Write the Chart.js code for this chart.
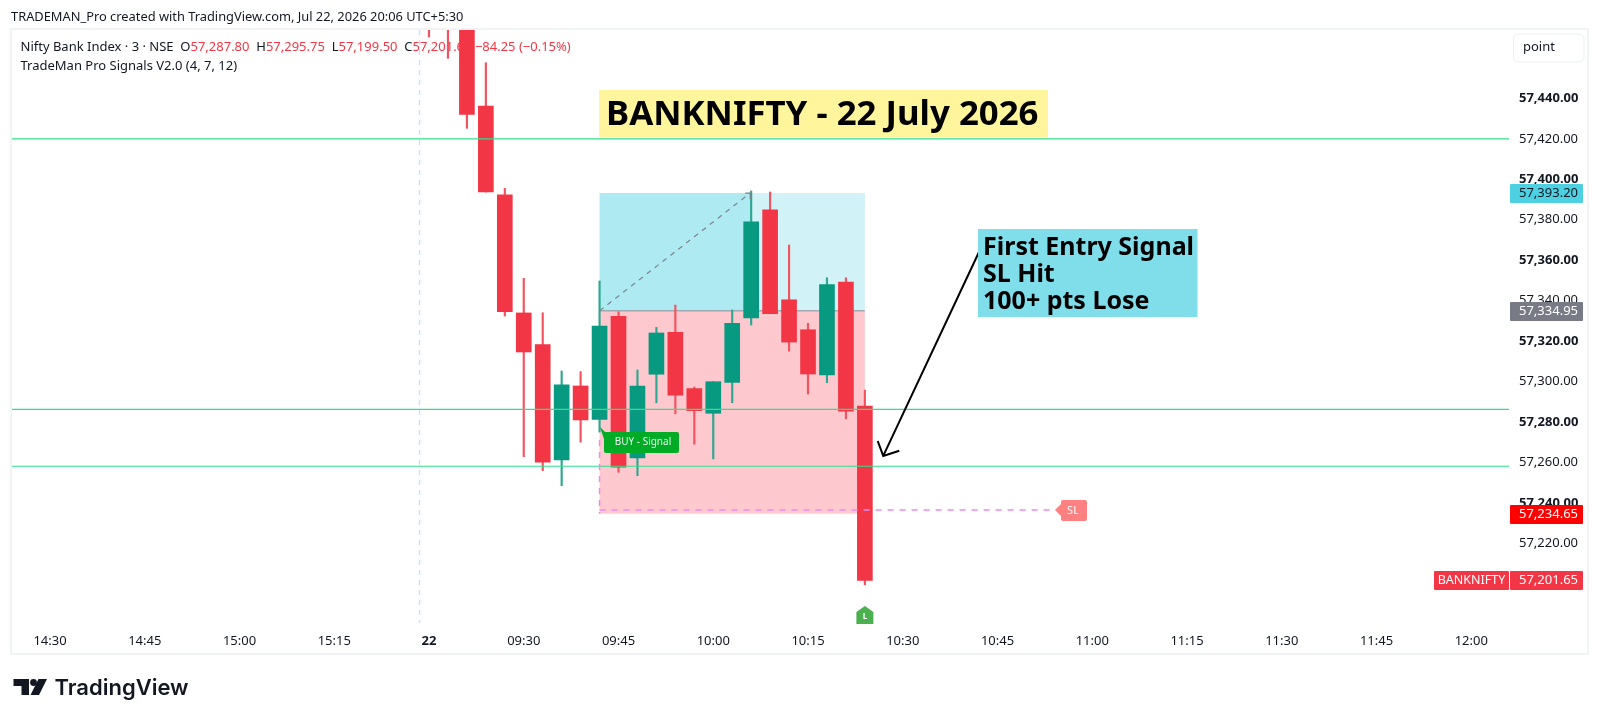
<!DOCTYPE html>
<html>
<head>
<meta charset="utf-8">
<title>BANKNIFTY - 22 July 2026</title>
<script src="https://cdn.jsdelivr.net/npm/chart.js@4/dist/chart.umd.min.js"></script>
<style>
  html, body { margin: 0; padding: 0; background: #ffffff; }
  canvas { display: block; }
</style>
</head>
<body>
<canvas id="chart" width="1600" height="721"></canvas>
<script>
// candles, x = number of 3 minute bars after 09:15 on the 22nd
const barIndex = [0, 1, 2, 3, 4, 5, 6, 7, 8, 9, 10, 11, 12, 13, 14, 15, 16, 17, 18, 19, 20, 21, 22, 23];
const openPrices = [57500, 57510, 57490, 57436.2, 57392.3, 57333.9, 57318.2, 57261.2, 57297.8, 57281.3, 57332.2, 57262.2, 57303.6, 57324.3, 57296.5, 57284.3, 57299.6, 57331.4, 57384.9, 57340.4, 57325.6, 57303.2, 57349.2, 57287.8];
const highPrices = [57510, 57520, 57495, 57457.6, 57395.5, 57351, 57334, 57305.2, 57304.9, 57349.7, 57334.5, 57305.7, 57326.8, 57337.8, 57297.3, 57299.9, 57335.4, 57394.2, 57393.7, 57367.5, 57328.8, 57351.3, 57351.3, 57295.75];
const lowPrices = [57470.3, 57459.8, 57425.2, 57393.7, 57332.4, 57262.8, 57255.9, 57248.5, 57270, 57275, 57255.1, 57253.4, 57289.5, 57284, 57269, 57261.7, 57289.5, 57327.9, 57333.5, 57315, 57293.8, 57299.4, 57281.6, 57199.5];
const closePrices = [57480, 57480, 57432.1, 57393.7, 57334.5, 57314.6, 57260.1, 57298.3, 57281, 57327.4, 57257.6, 57297.8, 57324, 57293.2, 57285.6, 57299.9, 57328.8, 57378.9, 57333.5, 57319.5, 57303.7, 57347.9, 57285.3, 57201.65];

const timeTicks = [-20, -15, -10, -5, 0, 5, 10, 15, 20, 25, 30, 35, 40, 45, 50, 55];
const timeLabels = ["14:30", "14:45", "15:00", "15:15", "22", "09:30", "09:45", "10:00", "10:15", "10:30", "10:45", "11:00", "11:15", "11:30", "11:45", "12:00"];
const priceTicks = [57220, 57240, 57260, 57280, 57300, 57320, 57340, 57360, 57380, 57400, 57420, 57440];

const levelLines = [57420, 57286.2, 57258.1];
const targetPrice = 57393.2;
const entryPrice = 57334.95;
const stopPrice = 57234.65;
const lastPrice = 57201.65;
const stopLine = 57236.5;

const RED = "#f23645";
const GREEN = "#089981";
const UI_FONT = '"Noto Sans", sans-serif';

const text = (ctx, str, x, y, font, color, align = "left") => {
  ctx.font = font;
  ctx.fillStyle = color;
  ctx.textAlign = align;
  ctx.textBaseline = "middle";
  ctx.fillText(str, x, y);
  return ctx.measureText(str).width;
};

const box = (ctx, x, y, w, h, color, radius = 0) => {
  ctx.fillStyle = color;
  ctx.beginPath();
  ctx.roundRect(x, y, w, h, radius);
  ctx.fill();
};

const priceTag = (ctx, yScale, price, color, textColor) => {
  const y = Math.round(yScale.getPixelForValue(price));
  box(ctx, 1510, y - 9, 73, 19, color, 1);
  text(ctx, price.toLocaleString("en-US", { minimumFractionDigits: 2 }), 1519, y + 0.5, `13px ${UI_FONT}`, textColor);
};

const underlay = {
  id: "underlay",
  beforeDatasetsDraw(chart) {
    const { ctx, scales: { x, y } } = chart;
    const left = x.getPixelForValue(9);
    const hit = x.getPixelForValue(17);
    const right = x.getPixelForValue(23);
    const top = y.getPixelForValue(targetPrice);
    const mid = y.getPixelForValue(entryPrice);
    const bottom = y.getPixelForValue(stopPrice);

    ctx.save();
    // session break, half a bar before the first candle
    ctx.strokeStyle = "#cfdff6";
    ctx.lineWidth = 1.5;
    ctx.setLineDash([5, 5]);
    ctx.beginPath();
    ctx.moveTo(x.getPixelForValue(-0.5), y.top);
    ctx.lineTo(x.getPixelForValue(-0.5), y.bottom);
    ctx.stroke();
    ctx.setLineDash([]);

    // long position tool
    ctx.fillStyle = "#aeeaf1";
    ctx.fillRect(left, top, hit - left, mid - top);
    ctx.fillStyle = "#d1f3f7";
    ctx.fillRect(hit, top, right - hit, mid - top);
    ctx.fillStyle = "#fec9ce";
    ctx.fillRect(left, mid, right - left, bottom - mid);
    ctx.fillStyle = "#8a8d96";
    ctx.fillRect(left, mid - 0.5, right - left, 1);

    // legend sits under the candles
    const legend = `13px ${UI_FONT}`;
    let cx = 20.5;
    const parts = [
      ["Nifty Bank Index · 3 · NSE  ", "#131722"], ["O", "#131722"], ["57,287.80  ", RED],
      ["H", "#131722"], ["57,295.75  ", RED], ["L", "#131722"], ["57,199.50  ", RED],
      ["C", "#131722"], ["57,201.65 ", RED], ["−84.25 (−0.15%)", RED],
    ];
    parts.forEach(([str, color]) => {
      cx += text(ctx, str, cx, 47.5, legend, color);
    });
    text(ctx, "TradeMan Pro Signals V2.0 (4, 7, 12)", 20.5, 66.5, legend, "#131722");
    ctx.restore();
  },
};

const overlay = {
  id: "overlay",
  afterDatasetsDraw(chart) {
    const { ctx, scales: { x, y } } = chart;
    ctx.save();

    // title
    box(ctx, 599, 90, 449, 47, "#fff59d");
    text(ctx, "BANKNIFTY - 22 July 2026", 606, 115.5, `bold 34.8px ${UI_FONT}`, "#000000");

    // dashed arrow of the position tool
    const sx = x.getPixelForValue(9);
    const sy = y.getPixelForValue(entryPrice);
    const ex = x.getPixelForValue(16.95);
    const ey = y.getPixelForValue(targetPrice);
    ctx.strokeStyle = "#7f8590";
    ctx.lineWidth = 1.25;
    ctx.setLineDash([5, 5]);
    ctx.beginPath();
    ctx.moveTo(sx, sy);
    ctx.lineTo(ex, ey);
    ctx.stroke();
    ctx.setLineDash([]);
    ctx.beginPath();
    ctx.moveTo(ex - 5, ey);
    ctx.lineTo(ex, ey);
    ctx.lineTo(ex, ey + 6);
    ctx.stroke();

    // stop loss dashes
    ctx.strokeStyle = "#e88df0";
    ctx.lineWidth = 1.5;
    ctx.setLineDash([6, 6]);
    ctx.beginPath();
    ctx.moveTo(sx, 440);
    ctx.lineTo(sx, y.getPixelForValue(stopPrice));
    ctx.moveTo(sx, y.getPixelForValue(stopLine));
    ctx.lineTo(1055, y.getPixelForValue(stopLine));
    ctx.stroke();
    ctx.setLineDash([]);

    // SL tag
    const sl = y.getPixelForValue(stopLine);
    ctx.fillStyle = "#ff8080";
    ctx.beginPath();
    ctx.moveTo(1055, sl);
    ctx.lineTo(1063, sl - 8);
    ctx.lineTo(1063, sl + 8);
    ctx.closePath();
    ctx.fill();
    box(ctx, 1061, sl - 10, 26, 21, "#ff8080", 2);
    text(ctx, "SL", 1073, sl + 0.5, `11px ${UI_FONT}`, "#ffffff", "center");

    // buy tag
    ctx.fillStyle = "#00ab26";
    ctx.beginPath();
    ctx.moveTo(600, 427);
    ctx.lineTo(606, 433);
    ctx.lineTo(606, 445);
    ctx.closePath();
    ctx.fill();
    box(ctx, 604, 432, 75, 21, "#00ab26", 2);
    text(ctx, "BUY - Signal", 643, 442, `10px ${UI_FONT}`, "#e8f7ea", "center");

    // long exit marker
    const lx = x.getPixelForValue(23);
    ctx.fillStyle = "#4caf50";
    ctx.beginPath();
    ctx.moveTo(lx, 606);
    ctx.lineTo(lx + 8.5, 612);
    ctx.lineTo(lx + 8.5, 624);
    ctx.lineTo(lx - 8.5, 624);
    ctx.lineTo(lx - 8.5, 612);
    ctx.closePath();
    ctx.fill();
    text(ctx, "L", lx, 617, `bold 8px ${UI_FONT}`, "#ffffff", "center");

    // callout and its arrow
    const tipX = x.getPixelForValue(23.97);
    const tipY = y.getPixelForValue(57263.2);
    ctx.strokeStyle = "#000000";
    ctx.lineWidth = 2;
    ctx.beginPath();
    ctx.moveTo(979, 252);
    ctx.lineTo(tipX, tipY);
    ctx.moveTo(877.7, 441);
    ctx.lineTo(tipX, tipY);
    ctx.lineTo(899.3, 450.7);
    ctx.stroke();

    box(ctx, 978, 229, 219.5, 88, "#80deea");
    const callout = `bold 25px ${UI_FONT}`;
    text(ctx, "First Entry Signal", 983, 248, callout, "#000000");
    text(ctx, "SL Hit", 983, 274.5, callout, "#000000");
    text(ctx, "100+ pts Lose", 983, 301.5, callout, "#000000");
    ctx.restore();
  },
  afterDraw(chart) {
    const { ctx, scales: { y } } = chart;
    ctx.save();

    // pane frame
    ctx.strokeStyle = "#f2f3f5";
    ctx.lineWidth = 2;
    ctx.strokeRect(11, 29, 1577, 625);

    // header
    text(ctx, "TRADEMAN_Pro created with TradingView.com, Jul 22, 2026 20:06 UTC+5:30", 11, 17.5, `12.85px ${UI_FONT}`, "#131722");

    // scale mode button
    box(ctx, 1513.5, 34, 70.5, 28, "#ffffff", 5);
    ctx.strokeStyle = "#eceef2";
    ctx.lineWidth = 1;
    ctx.stroke();
    text(ctx, "point", 1523, 47.5, `13px ${UI_FONT}`, "#131722");

    // price tags
    priceTag(ctx, y, targetPrice, "#4dd0e1", "#131722");
    priceTag(ctx, y, entryPrice, "#787b86", "#ffffff");
    priceTag(ctx, y, stopPrice, "#ff0000", "#ffffff");
    priceTag(ctx, y, lastPrice, RED, "#ffffff");
    const ly = Math.round(y.getPixelForValue(lastPrice));
    box(ctx, 1434, ly - 9, 75, 19, RED, 1);
    text(ctx, "BANKNIFTY", 1471.5, ly + 0.5, `12.5px ${UI_FONT}`, "#ffffff", "center");

    // logo
    ctx.fillStyle = "#131722";
    ctx.beginPath();
    ctx.moveTo(13.5, 679);
    ctx.lineTo(29, 679);
    ctx.lineTo(29, 695);
    ctx.lineTo(21.5, 695);
    ctx.lineTo(21.5, 686);
    ctx.lineTo(13.5, 686);
    ctx.closePath();
    ctx.fill();
    ctx.beginPath();
    ctx.arc(33.5, 682.5, 3.4, 0, Math.PI * 2);
    ctx.fill();
    ctx.beginPath();
    ctx.moveTo(38.5, 679);
    ctx.lineTo(47, 679);
    ctx.lineTo(39, 695);
    ctx.lineTo(30.5, 695);
    ctx.closePath();
    ctx.fill();
    text(ctx, "TradingView", 54.5, 688, '600 22px Inter, "Noto Sans", sans-serif', "#131722");
    ctx.restore();
  },
};

new Chart(document.getElementById("chart"), {
  type: "bar",
  data: {
    datasets: [
      {
        type: "line",
        order: 0,
        data: [
          { x: -22.005, y: levelLines[0] }, { x: 56.99, y: levelLines[0] }, { x: null, y: null },
          { x: -22.005, y: levelLines[1] }, { x: 56.99, y: levelLines[1] }, { x: null, y: null },
          { x: -22.005, y: levelLines[2] }, { x: 56.99, y: levelLines[2] },
        ],
        borderColor: "#2fe08d",
        borderWidth: 1.2,
        pointRadius: 0,
        spanGaps: false,
      },
      {
        order: 1,
        data: barIndex.map((i) => ({ x: i, y: [openPrices[i], closePrices[i]] })),
        backgroundColor: barIndex.map((i) => (closePrices[i] < openPrices[i] ? RED : GREEN)),
        barThickness: 15,
        grouped: false,
      },
      {
        order: 2,
        data: barIndex.map((i) => ({ x: i, y: [lowPrices[i], highPrices[i]] })),
        backgroundColor: barIndex.map((i) => (closePrices[i] < openPrices[i] ? "#f5525f" : "#2fa692")),
        barThickness: 1.5,
        grouped: false,
      },
    ],
  },
  options: {
    responsive: false,
    animation: false,
    devicePixelRatio: 1,
    layout: { padding: { left: 12, top: 30, right: 12, bottom: 67 } },
    plugins: { legend: { display: false }, tooltip: { enabled: false } },
    scales: {
      x: {
        type: "linear",
        offset: false,
        min: -22.005,
        max: 56.99,
        grid: { display: false },
        border: { display: false },
        afterBuildTicks: (scale) => {
          scale.ticks = timeTicks.map((value) => ({ value }));
        },
        afterFit: (scale) => {
          scale.height = 31;
        },
        ticks: {
          autoSkip: false,
          maxRotation: 0,
          padding: 2,
          color: "#131722",
          font: (c) => ({
            family: UI_FONT,
            size: 13,
            weight: c.tick && c.tick.value === 0 ? "bold" : "normal",
          }),
          callback: (value) => timeLabels[timeTicks.indexOf(value)],
        },
      },
      y: {
        position: "right",
        min: 57180.6,
        max: 57473.8,
        grid: { display: false },
        border: { display: false },
        afterBuildTicks: (scale) => {
          scale.ticks = priceTicks.map((value) => ({ value }));
        },
        afterFit: (scale) => {
          scale.width = 79;
        },
        ticks: {
          padding: 2,
          crossAlign: "near",
          color: "#131722",
          font: (c) => ({
            family: UI_FONT,
            size: 13,
            weight: c.tick && c.tick.value % 40 === 0 ? "bold" : "normal",
          }),
          callback: (value) => value.toLocaleString("en-US", { minimumFractionDigits: 2 }),
        },
      },
    },
  },
  plugins: [underlay, overlay],
});
</script>
</body>
</html>
